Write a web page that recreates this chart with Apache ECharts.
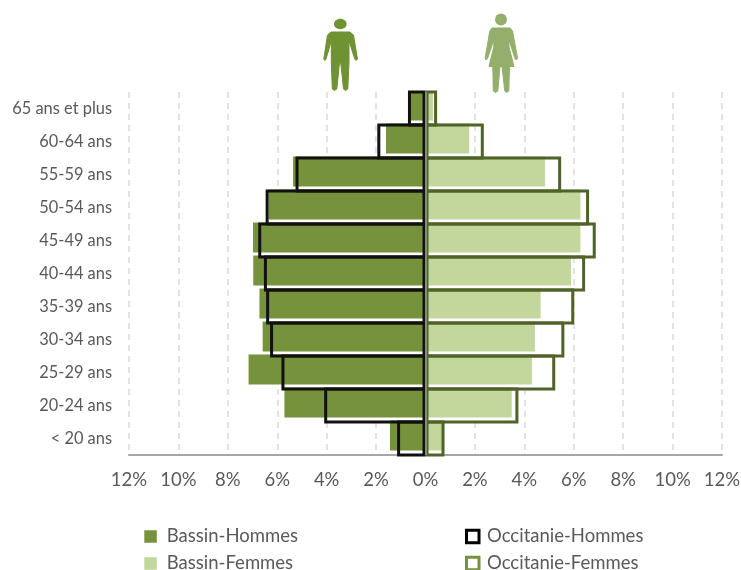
<!DOCTYPE html>
<html><head><meta charset="utf-8">
<script src="https://cdn.jsdelivr.net/npm/echarts@6/dist/echarts.min.js"></script>
<style>html,body{margin:0;padding:0;background:#fff}#c{width:741px;height:570px}</style>
</head><body><div id="c"></div>
<script>
const categories = ['< 20 ans','20-24 ans','25-29 ans','30-34 ans','35-39 ans','40-44 ans','45-49 ans','50-54 ans','55-59 ans','60-64 ans','65 ans et plus'];
const bassinHommes = [-1.44,-5.71,-7.16,-6.59,-6.72,-6.97,-6.98,-6.35,-5.36,-1.6,-0.65];
const bassinFemmes = [0.67,3.49,4.31,4.43,4.66,5.89,6.27,6.27,4.84,1.77,0.3];
const occitanieHommes = [-1.15,-4.1,-5.83,-6.29,-6.45,-6.54,-6.77,-6.47,-5.26,-1.95,-0.71];
const occitanieFemmes = [0.77,3.76,5.25,5.62,6.02,6.46,6.89,6.62,5.49,2.36,0.47];

const font = 'Lato, Carlito, sans-serif';
const chart = echarts.init(document.getElementById('c'), null, {renderer:'canvas'});
const filled = (name,data,color)=>({name,type:'bar',data,barWidth:30,barGap:'-100%',
  itemStyle:{color},animation:false});
const outlined = (name,data,color,extra)=>Object.assign({name,type:'bar',data,barWidth:36,barGap:'-100%',
  itemStyle:{color:'rgba(0,0,0,0)',borderColor:color,borderWidth:3},animation:false},extra||{});
const legendText = p=>({fontFamily:font,fontSize:18.5,lineHeight:14,color:'#595959',padding:[0,0,0,p]});
const manColor = '#6f9232', womanColor = '#94ae6b';
const iconStyle = c=>({fill:c,stroke:c,lineWidth:1,lineJoin:'round'});
chart.setOption({
  animation:false,
  backgroundColor:'#fff',
  grid:{left:129,top:92,width:593,height:363,containLabel:false,outerBoundsMode:'none'},
  xAxis:{type:'value',min:-12,max:12,interval:2,
    axisLine:{show:true,onZero:false,lineStyle:{color:'#a6a6a6',width:2}},
    axisTick:{show:false},
    splitLine:{show:true,lineStyle:{color:'#d9d9d9',type:[6,5],width:1.5}},
    axisLabel:{formatter:v=>Math.abs(v)+'%',fontFamily:font,fontSize:18.5,color:'#595959',margin:16,hideOverlap:false,showMinLabel:true,showMaxLabel:true}},
  yAxis:{type:'category',data:categories,
    axisLine:{show:false},axisTick:{show:false},splitLine:{show:false},
    axisLabel:{fontFamily:font,fontSize:16.4,color:'#595959',margin:17,interval:0}},
  legend:[
    {data:[{name:'Bassin-Hommes'},{name:'Bassin-Femmes'}],orient:'vertical',left:144.3,top:527,width:250,height:120,padding:0,itemWidth:12.5,itemHeight:12.5,itemGap:8,icon:'rect',textStyle:legendText(5),selectedMode:false},
    {data:[{name:'Occitanie-Hommes',itemStyle:{color:'#fff',borderColor:'#000',borderWidth:3}},{name:'Occitanie-Femmes',itemStyle:{color:'#fff',borderColor:'#76923c',borderWidth:3}}],orient:'vertical',left:465,top:527,width:250,height:120,padding:0,itemWidth:12.5,itemHeight:12.5,itemGap:8,icon:'rect',textStyle:legendText(3),selectedMode:false}
  ],
  series:[
    filled('Bassin-Hommes',bassinHommes,'#76923c'),
    filled('Bassin-Femmes',bassinFemmes,'#c3d69b'),
    outlined('Occitanie-Hommes',occitanieHommes,'#111111'),
    outlined('Occitanie-Femmes',occitanieFemmes,'#4f6228',{
      markLine:{silent:true,symbol:'none',label:{show:false},animation:false,
        lineStyle:{color:'#858c78',width:2,type:'solid'},data:[{xAxis:0}]}})
  ],
  graphic:[
    {type:'ellipse',shape:{cx:340.3,cy:24,rx:6.3,ry:5.2},style:{fill:manColor},silent:true},
    {type:'polygon',silent:true,style:iconStyle(manColor),shape:{points:[[331,32],[350,32],[353.5,35],[357.5,59],[356,60.5],[354.8,59],[349,41],[349,62],[347.8,89],[345.5,90.5],[343.5,89],[340.8,63],[339.5,63],[336.8,89],[334.5,90.5],[332.3,89],[331.3,62],[331.3,41],[326,59],[324.8,60.5],[323.8,59],[327.5,35]]}},
    {type:'circle',shape:{cx:501,cy:19.5,r:6},style:{fill:womanColor},silent:true},
    {type:'polygon',silent:true,style:iconStyle(womanColor),shape:{points:[[492,28],[510,28],[512.5,31],[517.5,58],[516.5,60],[515,58.5],[509,40],[509,47],[514,66.5],[509.5,66.5],[508.8,91],[506.5,92.5],[504.8,91],[502,66.5],[500,66.5],[497.8,91],[495.5,92.5],[493.3,91],[492.8,66.5],[489,66.5],[493.8,47],[493.8,40],[487.5,58.5],[486,60],[485.2,58],[489.8,31]]}}
  ]
});
</script></body></html>
